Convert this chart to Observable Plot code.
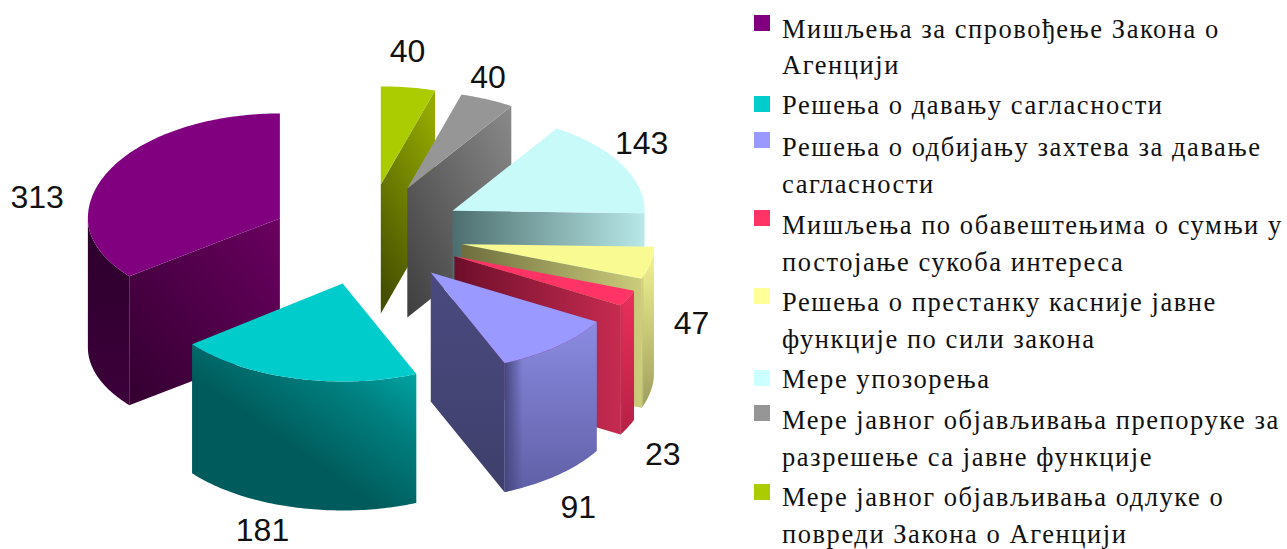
<!DOCTYPE html>
<html lang="sr">
<head>
<meta charset="utf-8">
<script src="https://cdn.jsdelivr.net/npm/d3@7"></script>
<script src="https://cdn.jsdelivr.net/npm/@observablehq/plot@0.6"></script>
<style>
  html, body { margin: 0; padding: 0; background: #fff; }
  #page { position: relative; width: 1287px; height: 549px; overflow: hidden; }
  #chart { position: absolute; left: 0; top: 0; }
  #legend { position: absolute; left: 754px; top: 10.5px; width: 533px;
            font-family: "Liberation Serif", serif; font-size: 26.5px; color: #111;
            line-height: 36.8px; letter-spacing: 1.55px; }
  .entry { position: relative; padding-left: 28px; white-space: pre; }
  .swatch { position: absolute; left: 0; width: 16px; height: 16px; }
</style>
</head>
<body>
<div id="page"><div id="chart"></div><div id="legend"></div></div>
<script>
// ---- data ----
const categories = [
  "Мишљења за спровођење Закона о\nАгенцији",
  "Решења о давању сагласности",
  "Решења о одбијању захтева за давање\nсагласности",
  "Мишљења по обавештењима о сумњи у\nпостојање сукоба интереса",
  "Решења о престанку касније јавне\nфункције по сили закона",
  "Мере упозорења",
  "Мере јавног објављивања препоруке за\nразрешење са јавне функције",
  "Мере јавног објављивања одлуке о\nповреди Закона о Агенцији"
];
const values = [313, 181, 91, 23, 47, 143, 40, 40];
const colors = ["#800080", "#00CCCC", "#9999FF", "#FF3366", "#FAFA92", "#C8FAFA", "#969696", "#AACC00"];
const swatchColors = ["#800080", "#00CCCC", "#9999FF", "#FF3366", "#FFFF99", "#CCFFFF", "#969696", "#AACC00"];

// ---- shading: [stops, gradient vector] ----
const H = [0, 0, 1, 0], V = [0, 0, 0, 1], D = [1, 0, 0, 1];
const faceShades = [
  [["#6a0060", "#330030"], D],
  [["#006060", "#004040"], V],
  [["#4a4a80", "#3f3f6c"], V],
  [["#6e0e2b", "#c62b50"], H],
  [["#6e6e3e", "#cccc7c"], H],
  [["#4d6e6e", "#b8e8e8"], H],
  [["#8a8a8a", "#3e3e3e"], D],
  [["#94aa00", "#465000"], [0.7, 0, 0.3, 1]]
];
const wallShades = [
  [["#2c002c", "#3c003a"], V],
  [["#00b4b4", "#008080", "#005c5c", "#005c5c"], [1, 0, 0.15, 0.9]],
  [["#8b8be2", "#5f5fa6"], V],
  [["#ea305e", "#b62044"], V],
  [["#f6f692", "#9e9e5e"], V],
  [["#b8e8e8", "#a8d8d8"], V],
  [["#888888", "#444444"], V],
  [["#88a000", "#485000"], V]
];
const wallEdges = [null, null, "#45457c", "#c42a50", "#c8c87c", null, null, null];

// ---- pie model ----
const model = { cx: 366.5, cy: 234, rx: 192, ryBack: 98, ryFront: 98, depth: 129, shiftX: 96.8, shiftY: 50.6 };
// the big slice is drawn a little taller behind and flatter in front, and sits lower
const sliceLook = [{ ryBack: 105, ryFront: 93, lower: 6 }];
const sin = a => Math.sin(a * Math.PI / 180), cos = a => Math.cos(a * Math.PI / 180);
const total = d3.sum(values);
const cum = d3.cumsum(values);
const slices = values.map((v, i) => {
  const a1 = cum[i] / total * 360, a0 = a1 - v / total * 360, mid = (a0 + a1) / 2;
  const look = sliceLook[i] ?? {};
  const apex = {
    x: model.cx - model.shiftX * sin(mid),
    y: model.cy - model.shiftY * cos(mid) + (look.lower ?? 0)
  };
  return { i, a0, a1, mid, apex, ryBack: look.ryBack ?? model.ryBack, ryFront: look.ryFront ?? model.ryFront };
});
const rim = (s, a) => ({
  x: s.apex.x - model.rx * sin(a),
  y: s.apex.y - (cos(a) > 0 ? s.ryBack : s.ryFront) * cos(a)
});
const arc = (s, from, to) => d3.range(from, to, 1).concat(to).map(a => rim(s, a));
const low = p => ({ x: p.x, y: p.y + model.depth });

// label placement relative to each slice's mid-angle: radius factor and vertical lift
const labelRadius = [1.906, 2.155, 1.675, 1.709, 1.725, 1.621, 1.521, 1.5];
const labelLift = [46, 81, 143, 143, 53, -15, -18, -33];
const labels = slices.map((s, i) => ({
  value: values[i],
  x: 366 - labelRadius[i] * model.rx * sin(s.mid),
  y: 236 - labelRadius[i] * 102 * cos(s.mid) + labelLift[i]
}));

// ---- faces, painted back to front ----
const gradients = [];
function gradient(id, [stops, vec]) {
  gradients.push({ id, stops, vec });
  return `url(#${id})`;
}
const faces = [];
for (const s of d3.sort(slices, s => s.apex.y)) {
  const radial = a => {
    const p = rim(s, a);
    return [s.apex, p, low(p), low(s.apex)];
  };
  const face = gradient(`face${s.i}`, faceShades[s.i]);
  if (s.a0 > 180) faces.push({ pts: radial(s.a0), fill: face });
  if (s.a1 < 180) faces.push({ pts: radial(s.a1), fill: face });
  const from = Math.max(s.a0, 90), to = Math.min(s.a1, 270);
  if (from < to) {
    const top = arc(s, from, to);
    const pts = top.concat(top.map(low).reverse());
    faces.push({ pts, fill: gradient(`wall${s.i}`, wallShades[s.i]) });
    if (wallEdges[s.i]) {
      gradients.push({ id: `edge${s.i}`, vec: H, edge: wallEdges[s.i] });
      faces.push({ pts, fill: `url(#edge${s.i})` });
    }
  }
  faces.push({ pts: [s.apex, ...arc(s, s.a0, s.a1)], fill: colors[s.i] });
}

const defs = () => {
  const d = d3.create("svg:defs");
  for (const g of gradients) {
    const lg = d.append("linearGradient").attr("id", g.id)
      .attr("x1", g.vec[0]).attr("y1", g.vec[1]).attr("x2", g.vec[2]).attr("y2", g.vec[3]);
    if (g.edge) {
      lg.append("stop").attr("offset", 0).attr("stop-color", g.edge).attr("stop-opacity", 1);
      lg.append("stop").attr("offset", 0.2).attr("stop-color", g.edge).attr("stop-opacity", 0);
    } else {
      g.stops.forEach((c, k) =>
        lg.append("stop").attr("offset", k / (g.stops.length - 1)).attr("stop-color", c));
    }
  }
  return d.node();
};

const plot = Plot.plot({
  width: 750, height: 549,
  margin: 0,
  x: { domain: [0, 750], range: [0, 750], axis: null },
  y: { domain: [0, 549], range: [0, 549], axis: null },
  style: { background: "transparent" },
  marks: [
    defs,
    ...faces.map(f => Plot.line(f.pts, { x: "x", y: "y", fill: f.fill, stroke: "none" })),
    Plot.text(labels, {
      x: "x", y: "y", text: d => String(d.value),
      fontSize: 32, fontFamily: "Liberation Sans, Arial, sans-serif", fill: "#111"
    })
  ]
});
document.getElementById("chart").append(plot);

// ---- legend ----
const entryGaps = [3, 5, 5, 3, 3, 5, 3, 0];
const swatchDrop = [4.5, 9, 3.5, 3, 4, 9, 3, 5];
const legend = d3.select("#legend");
categories.forEach((c, i) => {
  const e = legend.append("div").attr("class", "entry").style("margin-bottom", entryGaps[i] + "px");
  e.append("span").attr("class", "swatch").style("top", swatchDrop[i] + "px").style("background", swatchColors[i]);
  e.append("span").text(c);
});
</script>
</body>
</html>
